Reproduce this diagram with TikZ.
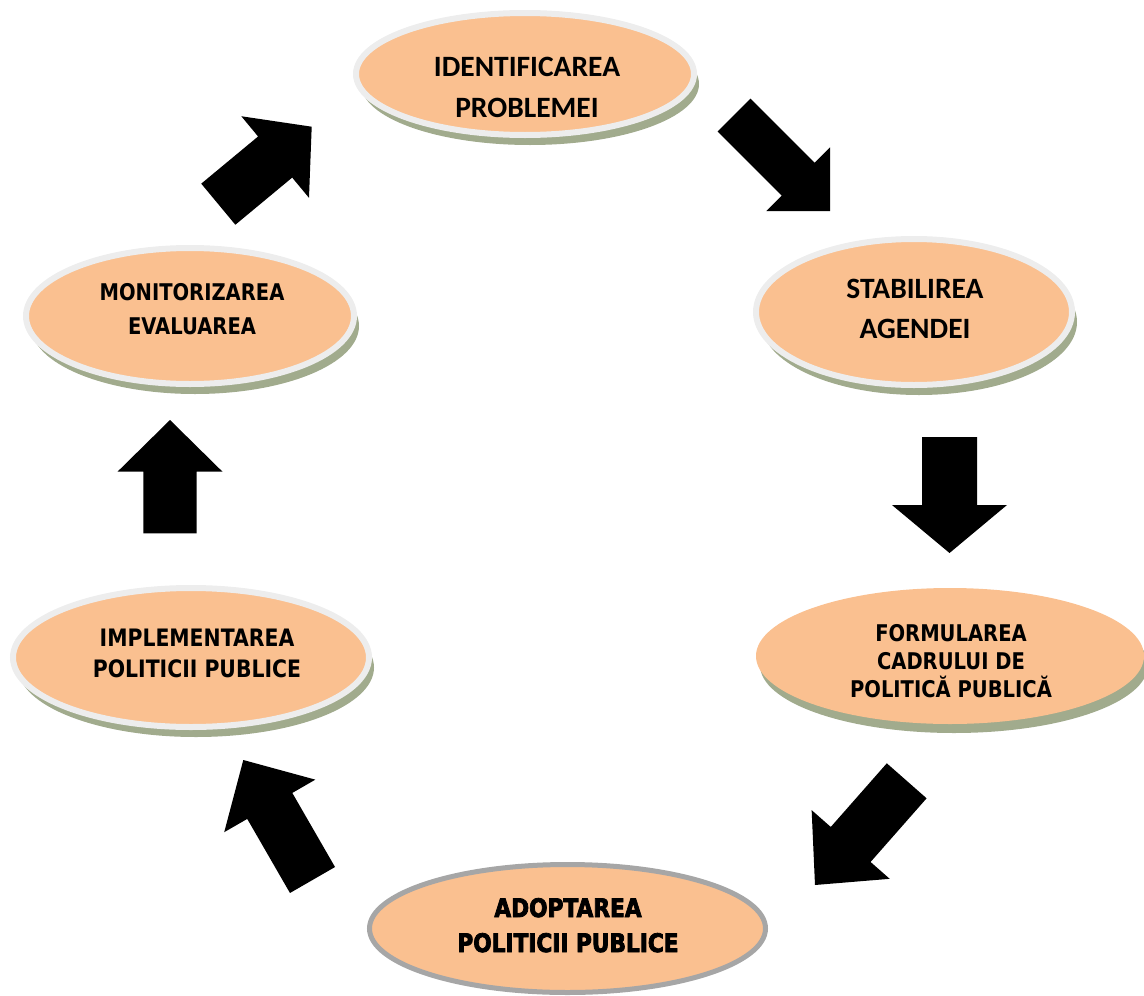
\documentclass[tikz,border=0pt]{standalone}
\usepackage{fontspec}
\usetikzlibrary{shapes.geometric,shadows,calc}
\newfontfamily\calib{Carlito}
\newfontfamily\tah{DejaVu Sans}[FakeStretch=0.85]
\newfontfamily\adoptf{DejaVu Sans}[FakeStretch=0.85,BoldFeatures={FakeBold=3}]
\definecolor{peach}{HTML}{FAC090}
\definecolor{rim}{HTML}{EDEDED}
\definecolor{shade}{HTML}{A1AB8D}
\definecolor{adoptrim}{HTML}{A6A6A6}
\tikzset{
  oval/.style={ellipse, fill=peach, draw=rim, line width=6pt, inner sep=0pt,
    drop shadow={shadow xshift=5pt, shadow yshift=-10pt, fill=shade, opacity=1}},
  ovalplain/.style={ellipse, fill=peach, draw=none, inner sep=0pt,
    drop shadow={shadow xshift=4pt, shadow yshift=-9pt, fill=shade, opacity=1}},
  ovaladopt/.style={ellipse, fill=peach, draw=adoptrim, line width=5pt, inner sep=0pt},
  lbl/.style={anchor=base, inner sep=0pt, text=black},
  lcal/.style={lbl, font=\calib\bfseries\fontsize{29.5}{29.5}\selectfont},
  ltah/.style={lbl, font=\tah\bfseries\fontsize{23}{23}\selectfont},
  ltahb/.style={lbl, font=\tah\bfseries\fontsize{24}{24}\selectfont},
  lad/.style={lbl, font=\adoptf\bfseries\fontsize{25.5}{25.5}\selectfont},
}
\newcommand\blockarr[6]{%
  \coordinate (#1t) at #2;
  \coordinate (#1p) at #3;
  \coordinate (#1m) at ($(#1p)!#6!(#1t)$);
  \fill[black] ($(#1t)!#4!90:(#1p)$) -- ($(#1m)!#4!90:(#1p)$) -- ($(#1m)!#5!90:(#1p)$)
    -- (#1p) -- ($(#1m)!#5!-90:(#1p)$) -- ($(#1m)!#4!-90:(#1p)$) -- ($(#1t)!#4!-90:(#1p)$) -- cycle;
}
\begin{document}
\begin{tikzpicture}[x=1pt,y=-1pt]
\useasboundingbox (0,0) rectangle (1144,996);
% ellipses
\node[oval, minimum width=338pt, minimum height=122pt] (e1) at (525,74) {};
\node[oval, minimum width=316pt, minimum height=146pt] (e2) at (914,312) {};
\node[oval, minimum width=328pt, minimum height=136pt] (e3) at (190,316) {};
\node[oval, minimum width=356pt, minimum height=139pt] (e4) at (191,657.5) {};
\node[ovalplain, minimum width=388pt, minimum height=136pt] (e5) at (950,656) {};
\node[ovaladopt, minimum width=396pt, minimum height=128pt] (e6) at (567.5,928.5) {};
% labels
\node[lcal] (t1a) at (527,76) {IDENTIFICAREA};
\node[lcal] (t1b) at (527,117) {PROBLEMEI};
\node[lcal] (t2a) at (915,298) {STABILIREA};
\node[lcal] (t2b) at (915,338) {AGENDEI};
\node[ltah] (t3a) at (192,300) {MONITORIZAREA};
\node[ltah] (t3b) at (192,334) {EVALUAREA};
\node[ltahb] (t4a) at (197,646) {IMPLEMENTAREA};
\node[ltahb] (t4b) at (197,677) {POLITICII PUBLICE};
\node[ltah] (t5a) at (951,641) {FORMULAREA};
\node[ltah] (t5b) at (951,669) {CADRULUI DE};
\node[ltah] (t5c) at (951,697) {POLITICĂ PUBLICĂ};
\node[lad] (t6a) at (568,917) {ADOPTAREA};
\node[lad] (t6b) at (568,952) {POLITICII PUBLICE};
% block arrows
\blockarr{a}{(734,115)}{(830,211)}{23.3pt}{45pt}{45pt}
\blockarr{b}{(949.5,437)}{(949.5,553)}{27.5pt}{57.5pt}{48pt}
\blockarr{c}{(906.7,780.8)}{(815,885)}{26.5pt}{52pt}{54pt}
\blockarr{d}{(312.5,880)}{(243.3,760)}{26pt}{52.6pt}{53pt}
\blockarr{e}{(170,533.3)}{(170,420)}{26.7pt}{52.5pt}{51.7pt}
\blockarr{f}{(218.3,204.2)}{(311.7,126.7)}{26.7pt}{53pt}{47.5pt}
\end{tikzpicture}
\end{document}
